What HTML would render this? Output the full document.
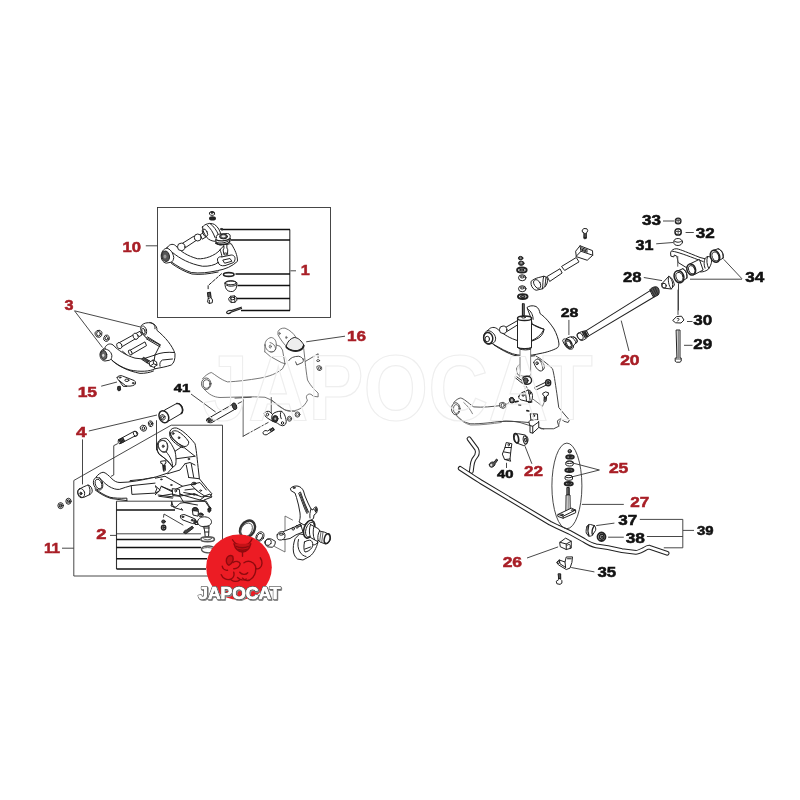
<!DOCTYPE html>
<html><head><meta charset="utf-8"><title>JAPOCAT suspension diagram</title>
<style>
html,body{margin:0;padding:0;background:#fff;}
body{width:800px;height:800px;overflow:hidden;font-family:"Liberation Sans",sans-serif;}
svg{display:block;}
.p{fill:none;stroke:#222;stroke-width:1px;stroke-linecap:round;stroke-linejoin:round;}
.p *{vector-effect:non-scaling-stroke;}
.f{fill:#fff;}
.l{fill:none;stroke:#333;stroke-width:0.9;}
.b{fill:none;stroke:#111;stroke-width:1.5;}
.lab text{font-family:"Liberation Sans",sans-serif;font-weight:bold;}
</style></head><body>
<svg width="800" height="800" viewBox="0 0 800 800">
<rect width="800" height="800" fill="#fff"/>
<!-- 10_upperarm_box.svg -->
<g transform="translate(150,200) scale(0.125)" class="p nss">
<!-- arm body -->
<path class="f" d="M135 385C150 355 180 345 205 365C240 410 300 448 380 470C440 475 520 445 560 400L575 380C600 360 640 345 650 350C680 400 700 440 700 490C660 530 600 555 540 565C470 580 400 590 330 580C270 560 220 530 170 495Z"/>
<path d="M180 420C240 470 320 512 420 530C470 532 520 522 545 500"/>
<path d="M172 508C230 548 280 575 335 592C400 600 470 592 545 576"/>
<!-- right pocket -->
<path d="M545 500C530 470 545 450 575 455L650 440C680 440 690 470 670 500L600 525C570 530 550 520 545 500Z"/>
<path d="M585 480L640 468L655 490L600 505Z"/>
<path d="M560 400C570 420 575 440 575 455"/>
<!-- bushing left -->
<path class="f" d="M135 385C160 390 185 420 190 460C188 480 180 495 168 498L130 505C100 500 88 470 90 440C95 405 115 388 135 385Z"/>
<ellipse cx="125" cy="450" rx="30" ry="42" fill="#555" transform="rotate(-12 125 450)"/>
<ellipse cx="120" cy="452" rx="12" ry="16" fill="#999" stroke="none"/>
<!-- cross shaft -->
<path class="f" d="M262 345L350 290L372 322L285 380Z"/>
<circle class="f" cx="250" cy="375" r="30"/>
<circle class="f" cx="382" cy="300" r="28"/>
<path class="f" d="M405 275L440 255L458 290L420 312Z"/>
<!-- pivot housing -->
<path class="f" d="M420 215C440 190 480 180 515 195C545 215 560 245 570 285C560 300 540 310 520 330C500 330 470 320 455 300C440 280 420 250 420 215Z"/>
<path d="M455 200C485 225 505 260 520 300"/>
<path d="M480 188C510 210 535 245 548 280" />
<ellipse cx="440" cy="262" rx="18" ry="32" transform="rotate(-25 440 262)"/>
<!-- ball joint -->
<path class="f" d="M530 300C525 285 540 275 560 272L620 268C640 270 645 285 640 300C645 330 630 350 610 355L560 360C535 355 520 335 530 300Z"/>
<ellipse cx="588" cy="292" rx="32" ry="19" fill="#555"/><ellipse cx="588" cy="290" rx="17" ry="9" fill="#eee" stroke="none"/>
<path d="M528 318C550 332 610 332 642 308M525 345C548 362 610 360 640 335" style="stroke-width:1.3px"/>
<path d="M522 335C545 350 600 350 640 320"/>
<path class="f" d="M590 360L592 385L585 400L590 430L620 428L622 398L615 384L615 358Z"/>
<ellipse cx="605" cy="432" rx="16" ry="8" class="f"/>
<path d="M565 232C570 225 582 225 585 235C582 245 570 245 565 232Z" fill="#333"/>
<!-- nut + washer above -->
<path class="f" d="M478 98C485 90 505 90 515 98L517 115C505 126 488 126 478 116Z"/>
<ellipse cx="497" cy="100" rx="12" ry="6" fill="#444"/>
<ellipse class="f" cx="500" cy="147" rx="20" ry="9" stroke-width="2"/>
<ellipse cx="500" cy="147" rx="9" ry="3" fill="#333"/>
<!-- ring -->
<ellipse cx="630" cy="596" rx="42" ry="15" stroke-width="14" style="stroke-width:1.6px"/>
<!-- dashed leader to bolt -->
<path d="M572 590L465 685V720" stroke-dasharray="3 1.5"/>
</g>

<!-- 11_box_small.svg -->
<g transform="translate(200,260) scale(0.125)" class="p">
<!-- cup -->
<path class="f" d="M200 185C205 165 285 160 295 185C298 215 285 245 262 252C235 256 212 245 205 222C201 208 199 195 200 185Z"/>
<ellipse cx="247" cy="182" rx="46" ry="16"/>
<path d="M212 202C235 215 270 212 293 198"/>
<!-- nut -->
<path class="f" d="M232 305L245 290L275 287L293 300L295 322L280 338L250 340L234 326Z"/>
<ellipse cx="262" cy="308" rx="16" ry="10"/>
<path d="M245 290L250 340M275 287L280 338" />
<!-- cotter pin -->
<path d="M330 378L250 405C235 400 215 408 213 420C215 432 235 432 248 418L332 388" style="stroke-width:1.3px"/>
<!-- bolt -->
<path class="f" d="M62 262L82 258L88 300L100 320L98 342L72 348L60 335L66 308Z"/>
<path d="M62 262L84 258M63 272L85 268M64 282L86 278M65 292L87 288" style="stroke-width:1.2px"/>
<path d="M66 308L88 300M75 322L74 346"/>
</g>

<!-- 12_arm3.svg -->
<g transform="translate(85,310) scale(0.125)" class="p">
<!-- arm body -->
<path class="f" d="M160 300C170 275 200 262 225 280C260 320 330 365 400 385L462 392L560 360L590 300L600 280L480 215C460 180 440 150 450 125C470 100 520 95 548 110C570 125 578 145 575 162C640 215 700 285 720 350C722 395 712 425 690 440C650 455 600 462 560 470C520 492 440 497 360 480C290 460 230 420 200 385Z"/>
<path d="M215 402C260 447 340 487 440 507C480 508 520 500 548 488"/>
<path d="M560 470L548 440L560 360M560 360C600 340 660 335 712 340M600 450C595 430 600 410 620 400L700 392"/>
<!-- housing top right -->
<ellipse class="f" cx="470" cy="165" rx="22" ry="38" transform="rotate(-15 470 165)"/>
<ellipse cx="468" cy="170" rx="12" ry="24" transform="rotate(-15 468 170)"/>
<path d="M520 100C545 105 565 125 560 150"/>
<!-- shafts -->
<path class="f" d="M262 268L440 170L455 200L285 300Z"/>
<path class="f" d="M355 325L480 255L492 285L372 355Z"/>
<ellipse class="f" cx="275" cy="285" rx="20" ry="26" transform="rotate(-25 275 285)"/>
<ellipse class="f" cx="405" cy="210" rx="20" ry="26" transform="rotate(-25 405 210)"/>
<ellipse class="f" cx="362" cy="340" rx="12" ry="22" transform="rotate(-25 362 340)"/>
<path d="M300 330L330 355M490 230L600 295M500 215L605 280"/>
<!-- bushing left -->
<path class="f" d="M150 312C180 310 210 330 215 365C215 385 208 398 195 402L160 408C130 405 118 380 120 350C125 325 138 314 150 312Z"/>
<ellipse cx="150" cy="360" rx="24" ry="36" fill="#666" transform="rotate(-10 150 360)"/>
<ellipse cx="146" cy="362" rx="9" ry="13" fill="#ddd" stroke="none"/>
<!-- nuts -->
<path class="f" d="M82 180L95 165L120 162L135 178L133 205L118 218L95 215L84 200Z"/>
<ellipse cx="108" cy="190" rx="15" ry="18"/>
<ellipse class="f" cx="172" cy="226" rx="22" ry="26" transform="rotate(20 172 226)"/>
<ellipse cx="172" cy="226" rx="11" ry="14" transform="rotate(20 172 226)"/>
<!-- bolt -->
<path d="M455 392L468 378L512 405L500 422Z" fill="#444"/>
<path class="f" d="M500 422L512 405L530 415L520 432Z"/>
<path class="f" d="M515 418L545 400L572 415L576 440L550 458L522 448Z"/>
<path d="M545 400L548 430L576 440M548 430L522 448"/>
<!-- plate 15 -->
<path class="f" d="M258 538C265 525 285 522 300 528L395 565C408 575 408 592 395 600C375 610 345 612 325 605L270 562C260 552 256 545 258 538Z"/>
<ellipse cx="335" cy="562" rx="16" ry="10"/>
<ellipse cx="280" cy="540" rx="7" ry="5"/><ellipse cx="385" cy="585" rx="7" ry="5"/>
<path d="M270 562L305 610L335 612"/>
<!-- tiny bolt -->
<path d="M265 612L282 610L285 640L270 648L262 640Z" fill="#333"/>
</g>

<!-- 13_cross16.svg -->
<g transform="translate(195,325) scale(0.125)" class="p" style="stroke:#555;stroke-width:0.8px">
<path d="M60 430C80 405 110 385 130 380C160 395 200 435 260 455C340 452 430 440 520 425C600 410 650 390 700 350L720 310"/>
<path d="M75 515C110 555 150 578 200 580C330 578 450 570 560 578C620 598 660 640 720 680L800 692"/>
<ellipse cx="90" cy="470" rx="38" ry="46" style="stroke:#333"/>
<ellipse cx="92" cy="472" rx="27" ry="34" style="stroke:#333"/>
<path d="M560 160C558 130 580 105 610 100C640 105 652 130 650 165C650 195 640 212 615 216C585 215 565 195 560 160Z"/>
<ellipse cx="602" cy="172" rx="8" ry="12"/>
<path d="M560 215L600 250L690 300L720 310M650 160L680 170L700 200L720 310M560 160L558 215"/>
<path d="M320 585L450 578" style="stroke:#333"/>
</g>
<g transform="translate(270,325) scale(0.125)" class="p" style="stroke:#555;stroke-width:0.8px">
<path d="M65 50C70 35 95 22 120 25C160 40 190 70 205 95L150 130L130 170C110 150 80 110 65 80Z"/>
<ellipse cx="76" cy="68" rx="5" ry="9"/><ellipse cx="130" cy="100" rx="5" ry="9"/>
<path d="M130 172C135 140 160 108 195 100C225 100 255 130 270 160C268 180 245 200 215 206C185 210 150 200 130 172Z" fill="#eee" style="stroke:#222;stroke-width:1px"/>
<path d="M132 180C155 205 200 215 235 203C255 195 268 180 270 165" style="stroke:#222;stroke-width:1.8px"/>
<path d="M270 190C275 230 285 350 300 440C330 495 360 520 385 545V575L345 570C335 555 320 548 305 555C285 565 290 590 300 600C290 625 265 655 240 670C210 685 180 690 150 690C110 680 50 640 15 600"/>
<path d="M0 140C25 145 42 165 45 190C40 210 25 220 0 215"/>
<path d="M150 285C160 262 195 250 230 250C250 255 262 265 265 275M205 295L215 320L260 300C268 290 268 280 265 270" style="stroke:#222"/>
<path d="M285 290L385 230V262" style="stroke:#333"/>
<ellipse cx="385" cy="285" rx="12" ry="8" style="stroke:#333"/>
<path d="M378 330L395 325L412 335L414 355L400 365L382 360L376 345Z" style="stroke:#333"/>
<ellipse cx="396" cy="346" rx="8" ry="12" style="stroke:#333"/>
</g>

<!-- 14_bolt41.svg -->
<g transform="translate(200,385) scale(0.125)" class="p">
<path class="f" d="M75 262L255 158L278 195L95 300C80 305 60 300 52 288C50 275 60 265 75 262Z"/>
<path d="M58 272L72 295M68 268L82 292M78 262L92 288M88 256L102 282" style="stroke-width:1.2px"/>
<ellipse cx="276" cy="170" rx="17" ry="28" fill="#444" transform="rotate(-20 276 170)"/>
<path d="M305 148L345 128" style="stroke:#444"/>
<path d="M345 115V410" style="stroke:#666"/>
<path d="M345 410L545 300" stroke-dasharray="7 2 1.5 2" style="stroke:#444"/>
<path d="M570 100V230" style="stroke:#555"/>
<path class="f" d="M515 225C520 212 545 205 560 215L580 235C590 220 625 208 650 210C672 220 685 250 690 290C690 310 680 325 660 326C640 322 625 312 620 305L580 290L540 265C525 255 512 240 515 225Z"/>
<ellipse cx="602" cy="270" rx="22" ry="26" fill="#333"/>
<ellipse cx="602" cy="270" rx="8" ry="10" fill="#aaa" stroke="none"/>
<ellipse cx="540" cy="236" rx="9" ry="11"/><ellipse cx="660" cy="304" rx="9" ry="11"/>
<path d="M580 235C570 250 572 275 580 290M650 210C640 225 640 250 650 270"/>
<path class="f" d="M505 378C510 365 525 360 540 368L585 342L595 358L545 390C538 400 520 402 510 395Z"/>
<path d="M560 355L570 372M570 350L580 366M580 344L590 360" style="stroke-width:1.2px"/>
<ellipse class="f" cx="716" cy="270" rx="17" ry="20" style="stroke:#444"/><ellipse cx="716" cy="270" rx="8" ry="10" style="stroke:#666"/>
<ellipse class="f" cx="780" cy="236" rx="19" ry="21" style="stroke:#444"/><ellipse cx="780" cy="236" rx="9" ry="11" style="stroke:#666"/>
</g>

<!-- 15_lowerarm_a.svg -->
<g transform="translate(130,415) scale(0.125)" class="p">
<path d="M212 45V280" style="stroke:#444"/>
<!-- right ear + body right side -->
<path class="f" d="M320 130C325 112 345 100 372 104C410 115 470 165 520 230C530 270 535 330 545 420L555 510L620 590L655 630L640 655L600 650L560 680L420 640L330 610L250 570L232 610L200 640L100 645L0 640V525L100 515L200 498L300 465L340 420C330 400 300 360 230 310C215 290 212 250 225 215C240 190 275 180 295 190C320 210 345 255 360 290L420 250C380 230 340 190 325 160Z"/>
<path d="M325 150C330 130 350 120 380 130C410 145 450 180 470 215C470 235 460 250 440 252C420 252 380 225 350 200C335 185 325 165 325 150Z"/>
<ellipse cx="345" cy="148" rx="6" ry="9"/><ellipse cx="392" cy="182" rx="6" ry="9"/>
<!-- left ear sleeve -->
<path d="M228 225C235 205 265 195 290 215C305 235 308 265 290 295C270 305 245 295 232 268C226 250 225 238 228 225Z"/>
<ellipse cx="265" cy="250" rx="7" ry="10"/>
<path d="M360 290C368 320 372 370 365 400L340 420M290 295C320 330 345 375 340 420"/>
<path d="M370 350L520 330M440 390L480 380L520 400M450 400L470 500M490 390L510 500M300 470L400 440L440 390M470 500L555 510M420 250L520 330"/>
<ellipse cx="470" cy="352" rx="7" ry="5"/>
<path d="M216 228C210 255 214 285 235 316C270 340 305 365 335 405M318 138C312 160 322 185 345 210C370 235 400 255 425 262"/>
<path d="M228 225C235 205 265 195 290 215C305 235 308 265 290 295C270 305 245 295 232 268C226 250 225 238 228 225Z" transform="translate(6,4) scale(0.97)" style="stroke:#444"/>
<!-- plate -->
<path d="M180 510L280 490L420 570L560 540L610 600M250 570L420 640M420 570L330 610M520 545L490 560L540 610L600 650"/>
<ellipse cx="250" cy="515" rx="6" ry="4"/><ellipse cx="330" cy="560" rx="6" ry="4"/><ellipse cx="515" cy="635" rx="12" ry="6"/><ellipse cx="565" cy="605" rx="8" ry="5"/>
<ellipse cx="512" cy="548" rx="18" ry="10"/>
<path d="M440 600L520 590L540 610M430 620L540 640"/>
<!-- pocket -->
<path d="M15 570L190 555L215 590L200 625L20 640Z"/>
<path d="M190 555L240 600M200 625L232 610"/>
<!-- small bracket -->
<path class="f" d="M340 590L395 595L400 650L345 645Z"/><ellipse cx="366" cy="607" rx="7" ry="9"/>
<!-- bolt -->
<path class="f" d="M248 370L285 365L288 385L278 390L282 445L268 450L262 392L250 388Z"/>
<path d="M264 405L280 402M265 415L281 412M266 425L282 422M267 435L283 432" style="stroke-width:1.2px"/>
<!-- lower detail -->
<path d="M230 650L340 665M225 640L345 655M330 690L350 740L420 760M400 650L430 700L540 720M560 680L610 690L640 740"/>
<ellipse cx="635" cy="752" rx="10" ry="16" fill="#333" transform="rotate(30 635 752)"/>
</g>

<!-- 16_lowerarm_b.svg -->
<g transform="translate(55,400) scale(0.125)" class="p">
<!-- bolt -->
<path class="f" d="M508 318L625 255C640 245 660 250 662 268C662 285 648 295 632 292L520 350C508 352 500 335 508 318Z"/>
<path d="M512 318L526 346M522 313L536 341M532 308L546 336M542 303L556 331" style="stroke-width:1.3px"/>
<ellipse cx="642" cy="270" rx="14" ry="20" transform="rotate(-25 642 270)"/>
<path d="M500 350L470 365V600L450 610" style="stroke:#444"/>
<!-- nut / washer -->
<path class="f" d="M683 215L698 202L722 205L733 225L725 245L705 250L688 238Z"/><ellipse cx="707" cy="226" rx="10" ry="13"/>
<ellipse class="f" cx="765" cy="190" rx="18" ry="24" transform="rotate(-15 765 190)"/><ellipse cx="765" cy="190" rx="8" ry="12"/>
</g>
<g transform="translate(55,460) scale(0.125)" class="p">
<!-- arm left end -->
<path class="f" style="stroke:none" d="M330 135C345 115 365 100 385 98C405 100 430 125 455 150C475 170 495 180 520 180C600 180 700 160 800 138V330H575V305C520 308 470 305 440 298C400 285 350 255 320 230Z"/>
<path d="M330 135C345 115 365 100 385 98C405 100 430 125 455 150C475 170 495 180 520 180C600 180 700 160 800 138M575 325V305C520 308 470 305 440 298C400 285 350 255 320 230"/>
<path d="M355 140C375 165 400 190 430 210C460 228 490 238 515 235C545 225 580 212 610 205L800 185M610 205L615 275L800 265"/>
<path d="M322 240C360 270 410 298 450 308L575 325"/>
<ellipse class="f" cx="345" cy="190" rx="36" ry="52" transform="rotate(-20 345 190)"/>
<ellipse cx="348" cy="192" rx="25" ry="40" transform="rotate(-20 348 192)"/>
<!-- bushing -->
<path class="f" d="M195 232C215 220 250 205 265 200C285 205 298 225 298 250C295 265 285 275 275 278L228 300C205 300 185 285 182 262C182 248 188 238 195 232Z"/>
<ellipse cx="210" cy="265" rx="27" ry="37" transform="rotate(-15 210 265)"/>
<ellipse cx="207" cy="268" rx="8" ry="11" fill="#555"/>
<path d="M265 200C280 215 285 250 275 278"/>
<!-- nuts -->
<ellipse class="f" cx="45" cy="365" rx="22" ry="24"/><ellipse cx="45" cy="365" rx="11" ry="13" fill="#777"/>
<ellipse class="f" cx="108" cy="330" rx="21" ry="24"/><ellipse cx="108" cy="330" rx="10" ry="12"/>
<path d="M98 322L118 338"/>
</g>

<!-- 17_bush4.svg -->
<g transform="translate(140,395) scale(0.075)" class="p">
<path class="f" d="M330 200L480 118C520 100 560 130 570 185C572 215 565 235 555 245L385 345Z"/>
<path d="M490 113C530 108 565 150 568 200C568 225 560 240 550 247" style="stroke-width:1.6px"/>
<ellipse class="f" cx="318" cy="290" rx="62" ry="82" transform="rotate(-25 318 290)" style="stroke-width:1.5px"/>
<ellipse cx="302" cy="298" rx="32" ry="38" transform="rotate(-25 302 298)"/>
<ellipse cx="300" cy="300" rx="14" ry="18"/>
</g>

<!-- 18_balljoint.svg -->
<g transform="translate(160,490) scale(0.1)" class="p">
<!-- upper knuckle bits -->
<path d="M120 120L110 160L160 172L200 132L350 112H450L490 170M215 185L225 200M0 60L120 40L200 60L340 40L420 70L500 40L520 70L440 100"/>
<ellipse cx="495" cy="200" rx="13" ry="24" fill="#333" transform="rotate(15 495 200)"/>
<!-- plate -->
<path class="f" d="M205 258C215 245 235 242 250 248L340 285C358 295 365 315 355 328C345 338 330 338 315 332L230 300C212 292 200 275 205 258Z"/>
<ellipse cx="228" cy="268" rx="10" ry="8" fill="#555"/><ellipse cx="322" cy="302" rx="10" ry="8" fill="#555"/>
<!-- caps -->
<ellipse class="f" cx="352" cy="200" rx="30" ry="26"/><ellipse cx="352" cy="192" rx="22" ry="14" fill="#444"/>
<path class="f" d="M325 210L330 250L380 262L385 215Z"/>
<ellipse class="f" cx="408" cy="248" rx="24" ry="18"/><ellipse cx="408" cy="243" rx="15" ry="9" fill="#555"/>
<!-- body -->
<path class="f" d="M375 320C375 290 405 268 445 268C490 270 518 295 515 325C510 350 480 368 445 368C405 368 378 350 375 320Z"/>
<path d="M350 290C360 310 365 330 378 340M340 330L350 345L380 345"/>
<ellipse cx="350" cy="318" rx="12" ry="18" fill="#444"/>
<!-- stud -->
<path class="f" d="M438 368L448 420L452 470L485 472L488 420L490 365Z"/>
<path d="M448 420H488M440 380H490"/>
<!-- washer -->
<ellipse cx="476" cy="492" rx="68" ry="24" style="stroke:#555;stroke-width:1.6px"/>
<ellipse cx="476" cy="486" rx="40" ry="12" style="stroke:#666"/>
<!-- lower ring -->
<path d="M415 590C415 570 450 558 490 560C530 562 545 580 545 595C540 620 500 632 470 628C435 625 415 610 415 590Z" style="stroke:#555;stroke-width:1.4px"/>
<path d="M425 585C450 572 500 572 530 585" style="stroke:#666"/>
<!-- bolt -->
<path d="M240 425C238 410 250 400 262 402L322 362L335 380L275 425C268 440 245 442 240 425Z" fill="#444"/>
<!-- nuts -->
<ellipse cx="35" cy="316" rx="18" ry="16" fill="#444"/>
<ellipse cx="36" cy="376" rx="21" ry="24" class="f" style="stroke-width:1.5px"/><ellipse cx="36" cy="376" rx="8" ry="10" fill="#555"/>
<path d="M35 272L40 240L230 350" style="stroke:#444"/>
</g>

<!-- 19_knuckle.svg -->
<g transform="translate(235,475) scale(0.125)" class="p">
<!-- seal -->
<ellipse cx="100" cy="432" rx="55" ry="72" transform="rotate(32 100 432)" style="stroke-width:2.4px;stroke:#333"/>
<ellipse cx="92" cy="440" rx="42" ry="60" transform="rotate(32 92 440)" style="stroke:#555"/>
<!-- ring -->
<ellipse class="f" cx="200" cy="492" rx="30" ry="40" transform="rotate(30 200 492)"/>
<ellipse cx="197" cy="495" rx="20" ry="30" transform="rotate(30 197 495)"/>
<!-- sleeve -->
<path class="f" d="M240 535C245 515 270 505 290 512L322 530C325 550 315 570 298 578L262 575C245 565 238 550 240 535Z"/>
<ellipse cx="265" cy="538" rx="24" ry="26" transform="rotate(25 265 538)"/>
</g>
<g transform="translate(270,480) scale(0.1)" class="p">
<path d="M225 400L150 360V720L45 665" style="stroke:#555;stroke-width:0.8px"/>
<!-- lower part -->
<path class="f" d="M250 590C235 630 228 680 235 720C240 750 255 775 275 790L330 800L400 762C435 735 465 680 480 620L420 560L300 540Z"/>
<path d="M285 595C272 640 280 690 300 720C315 745 335 760 360 765M345 620C365 605 395 598 410 605C430 620 432 650 420 675C405 700 375 718 350 720C338 705 335 660 345 620ZM350 690L405 670M480 620C470 640 450 650 430 650"/>
<!-- steering arm -->
<path class="f" d="M130 518L250 468L305 438L330 520L260 548L200 585L140 597Z"/>
<path class="f" d="M72 548C78 525 105 512 130 518C150 528 155 560 145 582C130 602 100 605 82 595C72 585 68 565 72 548Z"/>
<ellipse cx="112" cy="542" rx="22" ry="10"/>
<ellipse cx="232" cy="487" rx="12" ry="14"/><ellipse cx="270" cy="468" rx="12" ry="14"/><ellipse cx="300" cy="455" rx="9" ry="12"/>
<!-- upper arm -->
<path class="f" d="M205 85C210 70 240 58 270 60C300 62 325 85 335 110L350 160L380 230L410 290L430 300C435 280 450 268 462 270C475 278 478 300 465 330L440 350L435 385L340 450L290 420C300 400 305 370 300 330L285 250L265 175L250 130L215 110Z"/>
<path d="M290 130L305 120C312 140 330 190 350 240L385 320L370 335C360 320 350 295 340 270L310 190Z"/>
<path d="M304 140L372 318" stroke-dasharray="1.2 1" style="stroke-width:1.6px;stroke:#444"/>
<ellipse cx="240" cy="78" rx="12" ry="6"/>
<path d="M410 290C400 320 395 350 400 380M462 270L455 320"/>
<ellipse cx="458" cy="300" rx="10" ry="16"/>
<!-- hub flange -->
<ellipse class="f" cx="392" cy="492" rx="52" ry="92" transform="rotate(18 392 492)" style="stroke-width:1.6px"/>
<ellipse cx="400" cy="496" rx="40" ry="76" transform="rotate(18 400 496)"/>
<!-- spindle -->
<path class="f" d="M405 445L485 488L500 515L492 600L470 612L405 575C390 540 390 480 405 445Z"/>
<path d="M440 462C428 500 428 560 445 596" />
<path class="f" d="M495 510L545 522C575 530 600 555 605 582C603 610 585 635 555 640L500 620L480 600C475 570 480 535 495 510Z"/>
<ellipse cx="572" cy="586" rx="28" ry="50" transform="rotate(15 572 586)" style="stroke-width:1.5px"/>
<path d="M510 516L497 612M530 521L517 624" style="stroke-width:0.9px;stroke:#555"/>
</g>

<!-- 30_topright.svg -->
<g transform="translate(650,210) scale(0.125)" class="p">
<!-- nuts -->
<ellipse class="f" cx="225" cy="88" rx="22" ry="22" style="stroke-width:1.5px"/><path d="M205 85H245M225 68V108" style="stroke:#555"/>
<ellipse class="f" cx="225" cy="175" rx="25" ry="25" style="stroke-width:1.5px"/><path d="M202 172H248M225 152V198" style="stroke:#555"/>
<!-- cap -->
<ellipse class="f" cx="225" cy="256" rx="35" ry="28"/><path d="M195 248C210 262 240 262 256 246"/>
<!-- arm -->
<path class="f" d="M165 340C168 322 190 308 215 310C250 318 300 340 400 380L440 390C445 375 470 365 485 380C498 400 495 430 470 470C455 488 420 498 400 495L385 470L290 460L225 420L215 370L195 360L190 375L170 370Z"/>
<path d="M180 330C220 335 300 365 390 400L425 412M440 390C430 410 430 440 440 465M460 372C450 400 455 440 470 468"/>
<path d="M222 372V450" style="stroke:#555"/>
<!-- tube -->
<path class="f" d="M318 432L395 395L425 480L352 518Z"/>
<ellipse class="f" cx="330" cy="476" rx="34" ry="46" transform="rotate(-20 330 476)" style="stroke-width:1.5px"/>
<ellipse cx="334" cy="478" rx="24" ry="35" transform="rotate(-20 334 478)"/>
<!-- ring left -->
<path class="f" d="M215 490L262 470C285 480 300 510 295 545L250 575Z"/>
<ellipse class="f" cx="232" cy="534" rx="38" ry="50" transform="rotate(-20 232 534)" style="stroke-width:1.5px"/>
<ellipse cx="236" cy="536" rx="27" ry="38" transform="rotate(-20 236 536)"/>
<path d="M262 470C285 480 300 510 295 545" />
<!-- ring right -->
<path class="f" d="M500 325L545 310C575 320 590 350 585 385L540 412Z"/>
<ellipse class="f" cx="520" cy="370" rx="36" ry="50" transform="rotate(-20 520 370)" style="stroke-width:1.5px"/>
<ellipse cx="524" cy="372" rx="26" ry="38" transform="rotate(-20 524 372)"/>
<path d="M545 310C575 320 590 350 585 385"/>
<!-- cone 28 -->
<path class="f" d="M95 590L150 530C170 535 190 565 195 600L170 632L120 626C100 620 90 605 95 590Z"/>
<path d="M150 530C140 555 150 610 170 632M160 540C180 560 185 590 180 615"/>
<ellipse cx="112" cy="606" rx="18" ry="20"/>
<!-- rod end -->
<path class="f" d="M0 650L45 625C60 625 72 645 68 665L20 692L0 700Z"/>
<path d="M20 638L40 680M30 632L50 674M40 628L58 668M10 644L28 688" style="stroke-width:1.3px"/>
<path d="M228 590V800" style="stroke:#444"/>
</g>

<!-- 31_clip_bolt.svg -->
<g transform="translate(640,290) scale(0.1)" class="p">
<path d="M380 0V245" style="stroke:#444"/>
<path class="f" d="M330 302L365 266L415 262L440 300L410 330L360 328Z"/>
<path d="M372 285C385 278 398 290 385 300L378 310"/>
<path class="f" d="M365 400H400V680H412V712L400 722H365L352 712V680H365Z"/>
<path d="M382 405V680M355 690H410" style="stroke:#555"/>
</g>

<!-- 32_rod20.svg -->
<g class="p">
<path class="f" d="M586.2 330.6L651.4 289.9L654.9 296.5L588.8 335.9Z" style="stroke-width:1.1px"/>
<path d="M650 289.5C652 287 656 286 657.8 287.5C659.5 289.5 659.6 293 658.4 294.8C656 296.5 654 297 653.4 296.8Z" fill="#555"/>
<path d="M651 289.5L654.6 296M653 288.3L656.5 295.2M655 287.5L658 294.6" style="stroke:#222;stroke-width:0.8px"/>
</g>
<g transform="translate(555,320) scale(0.0625)" class="p">
<!-- rod left end -->
<path class="f" d="M370 215C395 190 460 175 500 172L545 250C520 280 470 320 430 328C390 320 360 280 358 250C358 235 362 222 370 215Z"/>
<ellipse cx="402" cy="262" rx="42" ry="62" transform="rotate(-30 402 262)"/>
<path d="M440 195L485 285M460 188L505 272M480 180L522 262" style="stroke-width:1.3px"/>
<!-- cone 28b -->
<path class="f" d="M125 320C130 305 150 300 165 305L225 275C260 262 310 268 335 290C355 310 362 335 355 350L300 400L290 450C280 468 250 472 225 465C190 450 150 400 130 350Z"/>
<ellipse cx="218" cy="382" rx="48" ry="75" transform="rotate(-30 218 382)" style="stroke-width:1.4px"/>
<ellipse cx="222" cy="384" rx="32" ry="55" transform="rotate(-30 222 384)"/>
<path d="M260 275C300 290 330 330 335 370M300 270C335 290 352 320 355 350"/>
</g>

<!-- 33_link_washers.svg -->
<g transform="translate(500,215) scale(0.125)" class="p">
<!-- washer stack -->
<ellipse cx="165" cy="345" rx="18" ry="14" fill="#444"/><ellipse cx="165" cy="343" rx="7" ry="4" fill="#ccc" stroke="none"/>
<ellipse cx="170" cy="386" rx="22" ry="17" fill="#444"/><ellipse cx="170" cy="383" rx="9" ry="5" fill="#ccc" stroke="none"/>
<ellipse cx="175" cy="440" rx="38" ry="20" class="f" style="stroke-width:2px"/><ellipse cx="175" cy="440" rx="17" ry="7" style="stroke-width:1.4px"/>
<ellipse cx="178" cy="502" rx="30" ry="24" class="f"/><ellipse cx="178" cy="496" rx="15" ry="8"/>
<ellipse cx="178" cy="590" rx="30" ry="24" class="f"/><ellipse cx="178" cy="584" rx="15" ry="8"/>
<ellipse cx="182" cy="652" rx="38" ry="19" class="f" style="stroke-width:2px"/><ellipse cx="182" cy="652" rx="17" ry="7" style="stroke-width:1.4px"/>
<path d="M180 710V800M192 712V800" style="stroke-width:1.1px"/>
<!-- link rod -->
<path class="f" d="M380 490L480 430L497 464L400 530Z"/>
<path class="f" d="M495 410L610 340L632 375L520 442Z"/>
<path class="f" d="M250 530C265 515 290 505 310 500L350 490C370 492 382 505 380 525C380 550 365 575 340 590L290 602C270 598 255 580 250 560Z"/>
<ellipse cx="298" cy="552" rx="24" ry="38" transform="rotate(-30 298 552)"/>
<path d="M350 490C340 520 345 560 340 590M368 495C362 520 365 550 360 572"/>
<path class="f" d="M610 330L605 290L640 246L740 285L742 322L700 360Z"/>
<path d="M640 246L648 290L742 322M648 290L610 330M652 262L700 280M650 272L698 290M655 282L696 298" />
<!-- bolt -->
<path class="f" d="M660 118L672 108L695 110L702 125L695 140L690 142V188L672 190V142L662 138Z"/>
<path d="M672 150H690M672 160H690M672 170H690M672 180H690" style="stroke-width:1.2px"/>
</g>

<!-- 34_strut_arm.svg -->
<g transform="translate(455,295) scale(0.125)" class="p">
<!-- upper arm body -->
<path class="f" d="M262 285C275 262 305 250 335 268C360 290 400 325 460 350L500 365H612C650 350 690 320 712 275L616 232L610 190L576 100C590 88 620 80 648 92C665 100 678 125 680 148C710 170 744 200 792 272C812 310 828 350 832 392C830 410 825 420 816 424C790 440 730 460 680 468C640 478 600 484 560 485C520 484 480 476 460 470C420 458 360 425 300 390Z"/>
<path d="M312 400C370 440 430 468 470 482C520 494 580 494 640 486"/>
<path d="M616 232C640 250 680 268 712 272C712 290 700 320 680 336C660 350 640 360 616 368"/>
<path d="M580 110C610 130 625 160 625 195"/>
<!-- cross shaft -->
<path class="f" d="M400 262L500 205L512 232L415 292Z"/>
<circle class="f" cx="385" cy="278" r="30"/>
<!-- bushing -->
<path class="f" d="M262 285C290 285 320 310 325 345C325 365 318 378 305 385L270 395C240 392 225 365 228 335C232 305 245 290 262 285Z"/>
<ellipse cx="266" cy="345" rx="36" ry="46" transform="rotate(-12 266 345)" style="stroke-width:1.5px"/>
<ellipse cx="258" cy="352" rx="18" ry="22"/>
<!-- shock -->
<path class="f" d="M540 70H552V165H540Z" style="stroke-width:1.2px"/>
<path class="f" d="M520 430V640C540 655 590 655 605 640V430Z" style="stroke:#777"/>
<path class="f" d="M500 185V420L520 430H605L612 420V185Z"/>
<ellipse class="f" cx="556" cy="185" rx="56" ry="18" style="stroke-width:1.5px"/>
<ellipse cx="548" cy="178" rx="16" ry="6"/>
<path d="M500 420C530 432 585 432 612 420M520 432C545 442 585 442 605 432"/>
<!-- lower eye -->
<ellipse class="f" cx="575" cy="682" rx="38" ry="32" style="stroke-width:1.5px"/>
<ellipse cx="565" cy="685" rx="20" ry="22" fill="#555"/>
</g>

<!-- 35_cross_right.svg -->
<g transform="translate(445,350) scale(0.125)" class="p" style="stroke:#444;stroke-width:0.9px">
<path d="M70 420C85 400 110 385 125 384C150 388 180 420 230 455C300 462 380 452 440 445"/>
<path d="M150 420C180 445 205 480 220 510" style="stroke:#777"/>
<path d="M90 520C110 545 150 580 200 590C300 592 380 578 450 570C500 566 560 570 600 580L680 605"/>
<path d="M95 530C120 560 160 590 205 600C300 602 380 588 450 580" style="stroke:#777"/>
<ellipse cx="86" cy="470" rx="34" ry="48" style="stroke:#333"/>
<ellipse cx="90" cy="472" rx="22" ry="35" style="stroke:#555"/>
<path class="f" d="M440 425L465 418L485 430L487 455L465 468L442 458Z"/><ellipse cx="462" cy="442" rx="12" ry="16"/>
<path d="M490 435L515 420" stroke-dasharray="3 2"/>
</g>
<g transform="translate(500,340) scale(0.125)" class="p">
<path d="M290 130C320 145 380 190 420 230C432 270 440 330 455 430L470 540L520 600L555 640L545 660L510 650L490 630C470 635 455 645 460 655L470 690L430 710H330L300 690" style="stroke:#444"/>
<path d="M490 630C475 650 470 670 470 690" style="stroke:#666"/>
<path d="M270 180C275 160 295 148 315 155C340 170 355 195 355 220C350 240 335 250 320 248C300 240 280 215 270 180Z" style="stroke:#333"/>
<ellipse cx="296" cy="186" rx="9" ry="12"/>
<path d="M300 150C330 170 345 200 340 245" style="stroke:#666"/>
<path d="M150 200C125 225 122 265 160 292" style="stroke:#555"/>
<path d="M120 300L180 348L192 322M135 295L190 335" style="stroke:#333"/>
<!-- bolt 1 -->
<path class="f" d="M282 378L365 338L375 358L292 398C282 398 278 388 282 378Z"/>
<ellipse cx="385" cy="342" rx="20" ry="24" class="f" style="stroke-width:1.5px"/><ellipse cx="385" cy="342" rx="9" ry="12" fill="#444"/>
<!-- bolt 2 -->
<path class="f" d="M345 425L365 415L388 422L385 442L372 448L368 490L352 492L355 448L345 440Z"/>
<path d="M355 460L370 458M355 470L370 468M354 480L369 478" style="stroke-width:1.2px"/>
<!-- bracket -->
<path class="f" d="M150 452C155 430 180 415 200 412L225 400C245 402 258 420 260 445L258 470C255 488 245 496 235 495L170 480C155 475 148 465 150 452Z"/>
<path d="M200 412C205 430 210 460 212 488M225 400C232 420 238 450 240 478"/>
<ellipse cx="185" cy="440" rx="8" ry="11"/><ellipse cx="238" cy="425" rx="8" ry="11"/>
<ellipse cx="238" cy="495" rx="16" ry="6" fill="#555"/>
<path d="M260 470L340 530L365 470" style="stroke:#555;stroke-width:0.8px"/>
<path d="M210 370L225 400M195 372L205 410" stroke-dasharray="2 2" style="stroke:#666"/>
<!-- nut -->
<ellipse cx="95" cy="482" rx="20" ry="24" fill="#444" transform="rotate(-20 95 482)"/><ellipse cx="95" cy="482" rx="8" ry="11" fill="#bbb" stroke="none"/>
<path d="M120 495L145 490M150 518L165 520M215 565L230 568" style="stroke-width:1.6px"/>
<!-- clamp -->
<path class="f" d="M245 590L300 592L302 640L310 655V700L262 745L240 740V685L230 655L245 640Z"/>
<path d="M245 640L302 640M240 685L262 690L310 655M262 690V745"/>
<ellipse cx="270" cy="606" rx="7" ry="9"/>
<path d="M0 652C60 648 150 652 230 660M310 700L350 712" style="stroke:#444"/>
</g>

<!-- 36_stabbar.svg -->
<g fill="none" stroke-linecap="round" stroke-linejoin="round">
<path id="hook" d="M469 438.8L476.6 449C477.6 451 477.6 453.5 476.5 455.5L473.8 459.4C472.8 461.5 472.2 464 472 466L471.3 471.5" stroke="#222" stroke-width="4.8"/>
<path d="M469 438.8L476.6 449C477.6 451 477.6 453.5 476.5 455.5L473.8 459.4C472.8 461.5 472.2 464 472 466L471.3 471.5" stroke="#fff" stroke-width="2.7"/>
<path d="M460.2 468.4L475.6 478.4L480.6 481.6L550 523.1L557.5 526.8L569.4 532.2L583.8 540.2C588 543 592 545 596.2 545.8L608 547.6L621.9 550.6L636 552.3C638 552.3 639.5 551.5 643.8 549.4C646 548 648 547 649.4 547.2L667.1 553.2" stroke="#222" stroke-width="4.8"/>
<path d="M460.2 468.4L475.6 478.4L480.6 481.6L550 523.1L557.5 526.8L569.4 532.2L583.8 540.2C588 543 592 545 596.2 545.8L608 547.6L621.9 550.6L636 552.3C638 552.3 639.5 551.5 643.8 549.4C646 548 648 547 649.4 547.2L667.1 553.2" stroke="#fff" stroke-width="2.7"/>
</g>

<!-- 37_stab_parts.svg -->
<g transform="translate(450,430) scale(0.125)" class="p">
<!-- clamp 40 -->
<path class="f" d="M420 190L440 140L450 100L495 110L490 140L485 185L480 232L440 236Z"/>
<path d="M440 140L490 140M430 175L485 185M440 236L485 250L480 232" />
<ellipse cx="470" cy="118" rx="6" ry="9"/>
<!-- small bolt -->
<path d="M315 275C320 258 340 252 352 258L372 232L382 240L362 268C360 285 345 298 330 298C318 295 312 285 315 275Z" fill="#555"/>
<ellipse cx="330" cy="280" rx="9" ry="11" fill="#ddd" stroke="none"/>
<!-- bushing 22 -->
<path class="f" d="M512 55C518 38 535 28 548 30L600 40C618 48 626 65 624 85C620 105 608 120 590 125L528 102C515 92 508 72 512 55Z"/>
<ellipse cx="530" cy="66" rx="18" ry="38" transform="rotate(-12 530 66)" style="stroke-width:1.6px"/>
<ellipse cx="602" cy="80" rx="16" ry="32" transform="rotate(-12 602 80)"/>
<ellipse cx="604" cy="80" rx="7" ry="14" transform="rotate(-12 604 80)"/>
</g>
<g transform="translate(530,440) scale(0.125)" class="p">
<!-- stack 25 -->
<ellipse cx="318" cy="90" rx="14" ry="14" fill="#444"/><ellipse cx="318" cy="86" rx="5" ry="4" fill="#ddd" stroke="none"/>
<ellipse cx="320" cy="135" rx="30" ry="13" class="f" style="stroke-width:2px"/><ellipse cx="320" cy="135" rx="12" ry="4" fill="#444"/>
<path class="f" d="M288 178C290 165 340 165 345 178V200C335 212 298 212 288 200Z"/><ellipse cx="316" cy="178" rx="28" ry="10"/>
<ellipse cx="315" cy="242" rx="32" ry="14" class="f" style="stroke-width:2px"/><ellipse cx="315" cy="242" rx="14" ry="5" fill="#444"/>
<path class="f" d="M282 292C284 280 335 280 340 292V314C330 326 292 326 282 314Z"/><ellipse cx="311" cy="292" rx="28" ry="10"/>
<ellipse cx="310" cy="350" rx="32" ry="14" class="f" style="stroke-width:2px"/><ellipse cx="310" cy="350" rx="14" ry="5" fill="#444"/>
<!-- stud -->
<path d="M298 380H314V440H298Z" fill="#555"/>
<path class="f" d="M292 440H320L322 575H290Z"/>
<path d="M305 445V570" style="stroke:#666"/>
<!-- base -->
<path class="f" d="M225 595L330 545L365 560V582L265 626L225 612Z"/>
<path d="M225 595L265 610L365 560M265 610V626"/>
<ellipse cx="255" cy="598" rx="10" ry="5"/><ellipse cx="340" cy="562" rx="10" ry="5"/>
</g>
<g transform="translate(530,500) scale(0.125)" class="p">
<!-- bushing 26 -->
<path class="f" d="M240 338L285 305L330 330V385L290 396L245 375Z"/>
<path d="M240 338L290 352L330 330M290 352V396M300 360C310 352 322 355 322 365V385"/>
<!-- bracket 35 -->
<path class="f" d="M215 497L235 480L280 496L290 456L340 455L335 500L320 545L290 556L230 520Z"/>
<path d="M280 496L285 540M235 480L240 510L285 540M300 470H330" />
<ellipse cx="228" cy="498" rx="8" ry="10"/>
<!-- bolt -->
<path class="f" d="M228 590H245V635L255 645V665L240 675L215 670L210 650L228 638Z"/>
<path d="M228 598H245M228 608H245M228 618H245M228 628H245" style="stroke-width:1.2px"/>
<!-- clip 37 -->
<path class="f" d="M455 215C458 200 470 193 485 196L515 205C525 215 528 230 525 242L500 280C490 290 475 292 468 288L450 265C447 250 450 230 455 215Z"/>
<path d="M470 200C462 225 462 260 472 288M515 205C500 225 492 255 500 280" style="stroke-width:1.3px"/>
<!-- bushing 38 -->
<ellipse class="f" cx="572" cy="294" rx="32" ry="34" style="stroke-width:1.8px"/>
<ellipse cx="574" cy="294" rx="18" ry="20" style="stroke-width:1.4px"/>
<ellipse cx="575" cy="294" rx="7" ry="8" fill="#555"/>
</g>

<!-- 90_leaders.svg -->
<g class="l">
<rect x="157.5" y="207.5" width="173" height="110"/>
<path d="M145.8 245.8H157.5"/>
<path d="M290.5 270.8H296"/>
<path d="M74.5 310.8L140.5 327M74.5 310.8L102.5 347.5"/>
<path d="M101.2 386.2L117 382"/>
<path d="M306.2 341.8L345 336.2"/>
<path d="M191 394L215.6 412"/>
<path d="M88.8 431L157 415M82.5 439.4V484.4"/>
<path d="M110 535.4H116.5"/>
<path d="M62 548.2H73.8"/>
<path d="M73.8 480.5L171.2 425.2H222.5V576H73.8Z"/>
<path d="M116.5 533.8H201M116.5 501.2H205"/>
<path d="M663 221H674"/>
<path d="M685.6 232.5H693.8"/>
<path d="M656.2 243.8L673 242.5"/>
<path d="M643.8 277.5L662 280.6"/>
<path d="M742 278.8L723.8 259.4M742 279.2L690 279.2"/>
<path d="M687 321.5H692.5"/>
<path d="M684 345.3H692.5"/>
<path d="M621.2 320.6L629 351"/>
<path d="M568.9 319.9V335"/>
<path d="M506.5 462.8V468"/>
<path d="M525 446.2L531.9 463.8"/>
<path d="M599.4 470L573.1 463.1M599.4 470L571.9 476.9"/>
<path d="M581.9 504.4H623.8"/>
<path d="M596.2 525.6L614.4 523.1"/>
<path d="M608.1 537.2H623.8"/>
<path d="M527 558L558.1 546.9"/>
<path d="M571.2 567.5L594.4 571.9"/>
<path d="M639.8 519.4H682.8V547.8H663.8M646.9 536.5H682.8M683 530.4H694"/>
<ellipse cx="566.9" cy="485.9" rx="15" ry="42.8"/>
</g>
<g class="b">
<path d="M289.8 229.5V310.5" style="stroke-width:1.1;stroke:#333"/>
<path d="M223 229.5H290M230.5 240H290M235.5 274.1H290M237.5 285.6H290M237 298.5H290M241 310.4H290"/>
<path d="M116.5 501.2V569" style="stroke-width:1.1;stroke:#333"/>
<path d="M116.5 510H175" style="stroke-width:1.3"/>
<path d="M116.5 539.4H200M116.5 547.5H201M116.5 558.8H207M116.5 569H206"/>
</g>

<!-- 92_watermark.svg -->
<g style="filter:grayscale(0)">
<text transform="translate(202,420) scale(0.903,1)" font-family="'Liberation Sans',sans-serif" font-weight="bold" font-size="92" fill="none" stroke="#eeeeee" stroke-width="1.2">JAPOCAT</text>
</g>

<!-- 95_logo.svg -->
<g>
<circle cx="239" cy="567.3" r="32.8" fill="#ec1c24"/>
<g transform="translate(190,525) scale(0.125)" fill="none" stroke="#8f0a0e" stroke-width="11" stroke-linecap="round" stroke-linejoin="round">
<path d="M340 118C350 135 360 148 372 152C400 162 445 162 468 150C480 140 490 128 496 112"/>
<path d="M352 150C360 185 385 212 420 216C455 212 478 185 486 150" fill="#c51217"/>
<path d="M372 172C395 185 440 185 466 172M385 195C405 203 435 203 455 195"/>
<path d="M420 216V250"/>
<path d="M292 272C298 248 322 236 342 250C350 275 340 305 312 322C296 318 286 296 292 272Z" fill="#c51217"/>
<path d="M345 300C365 285 395 290 402 310C398 335 375 352 350 350"/>
<path d="M432 302C465 278 510 292 524 330C532 372 515 420 478 440C455 448 432 440 420 425"/>
<path d="M398 378C415 398 445 402 462 382M380 420C400 440 430 445 450 432"/>
<path d="M562 262C582 290 580 325 560 342C548 352 535 352 525 348"/>
<path d="M250 398C262 428 295 445 330 432C350 420 356 398 350 378"/>
<path d="M258 330C262 350 280 365 300 362"/>
<path d="M330 440C350 455 380 455 398 440"/>
</g>
<g style="filter:grayscale(0)" font-family="'Liberation Sans',sans-serif" font-weight="bold" font-size="17">
<text transform="translate(198.9,599.6) scale(1.03,1)" fill="#8a8a8a" stroke="#8a8a8a" stroke-width="2.2" stroke-linejoin="round">JAPOCAT</text>
<text transform="translate(198.2,598.8) scale(1.03,1)" fill="#fff" stroke="#5c5c5c" stroke-width="2" stroke-linejoin="round" style="paint-order:stroke">JAPOCAT</text>
<text transform="translate(198.2,598.8) scale(1.03,1)" fill="#fff" stroke="#fff" stroke-width="0.5">JAPOCAT</text>
</g>
</g>


<g class="lab" style="filter:grayscale(0)">
<text transform="translate(122.42,251.55) scale(1.190,1)" font-size="13.97" fill="#a81e26" stroke="#a81e26" stroke-width="0.5">10</text>
<text transform="translate(300.68,274.55) scale(1.107,1)" font-size="14.66" fill="#a81e26" stroke="#a81e26" stroke-width="0.5">1</text>
<text transform="translate(64.43,310.30) scale(1.107,1)" font-size="14.66" fill="#a81e26" stroke="#a81e26" stroke-width="0.5">3</text>
<text transform="translate(346.90,340.80) scale(1.167,1)" font-size="14.66" fill="#a81e26" stroke="#a81e26" stroke-width="0.5">16</text>
<text transform="translate(77.64,396.55) scale(1.254,1)" font-size="13.97" fill="#a81e26" stroke="#a81e26" stroke-width="0.5">15</text>
<text transform="translate(173.73,391.55) scale(1.331,1)" font-size="11.17" fill="#111" stroke="#111" stroke-width="0.5">41</text>
<text transform="translate(76.09,437.30) scale(1.349,1)" font-size="13.97" fill="#a81e26" stroke="#a81e26" stroke-width="0.5">4</text>
<text transform="translate(96.36,538.55) scale(1.317,1)" font-size="13.97" fill="#a81e26" stroke="#a81e26" stroke-width="0.5">2</text>
<text transform="translate(43.96,553.30) scale(1.044,1)" font-size="14.66" fill="#a81e26" stroke="#a81e26" stroke-width="0.5">11</text>
<text transform="translate(641.90,224.80) scale(1.222,1)" font-size="13.97" fill="#111" stroke="#111" stroke-width="0.5">33</text>
<text transform="translate(695.65,237.80) scale(1.222,1)" font-size="13.97" fill="#111" stroke="#111" stroke-width="0.5">32</text>
<text transform="translate(635.43,250.30) scale(1.158,1)" font-size="13.97" fill="#111" stroke="#111" stroke-width="0.5">31</text>
<text transform="translate(622.92,282.30) scale(1.136,1)" font-size="14.66" fill="#111" stroke="#111" stroke-width="0.5">28</text>
<text transform="translate(745.15,281.55) scale(1.222,1)" font-size="13.97" fill="#111" stroke="#111" stroke-width="0.5">34</text>
<text transform="translate(693.15,325.30) scale(1.222,1)" font-size="13.97" fill="#111" stroke="#111" stroke-width="0.5">30</text>
<text transform="translate(693.15,349.05) scale(1.222,1)" font-size="13.97" fill="#111" stroke="#111" stroke-width="0.5">29</text>
<text transform="translate(620.14,365.30) scale(1.254,1)" font-size="13.97" fill="#a81e26" stroke="#a81e26" stroke-width="0.5">20</text>
<text transform="translate(560.69,316.80) scale(1.198,1)" font-size="13.27" fill="#111" stroke="#111" stroke-width="0.5">28</text>
<text transform="translate(496.98,478.30) scale(1.331,1)" font-size="11.17" fill="#111" stroke="#111" stroke-width="0.5">40</text>
<text transform="translate(523.90,475.80) scale(1.222,1)" font-size="13.97" fill="#a81e26" stroke="#a81e26" stroke-width="0.5">22</text>
<text transform="translate(608.89,472.80) scale(1.254,1)" font-size="13.97" fill="#a81e26" stroke="#a81e26" stroke-width="0.5">25</text>
<text transform="translate(630.15,507.05) scale(1.167,1)" font-size="14.66" fill="#a81e26" stroke="#a81e26" stroke-width="0.5">27</text>
<text transform="translate(618.15,525.30) scale(1.222,1)" font-size="13.97" fill="#111" stroke="#111" stroke-width="0.5">37</text>
<text transform="translate(625.64,542.80) scale(1.238,1)" font-size="13.97" fill="#111" stroke="#111" stroke-width="0.5">38</text>
<text transform="translate(696.98,535.30) scale(1.222,1)" font-size="12.22" fill="#111" stroke="#111" stroke-width="0.5">39</text>
<text transform="translate(502.64,567.30) scale(1.254,1)" font-size="13.97" fill="#a81e26" stroke="#a81e26" stroke-width="0.5">26</text>
<text transform="translate(597.41,577.05) scale(1.206,1)" font-size="13.97" fill="#111" stroke="#111" stroke-width="0.5">35</text>
</g>
</svg>
</body></html>
